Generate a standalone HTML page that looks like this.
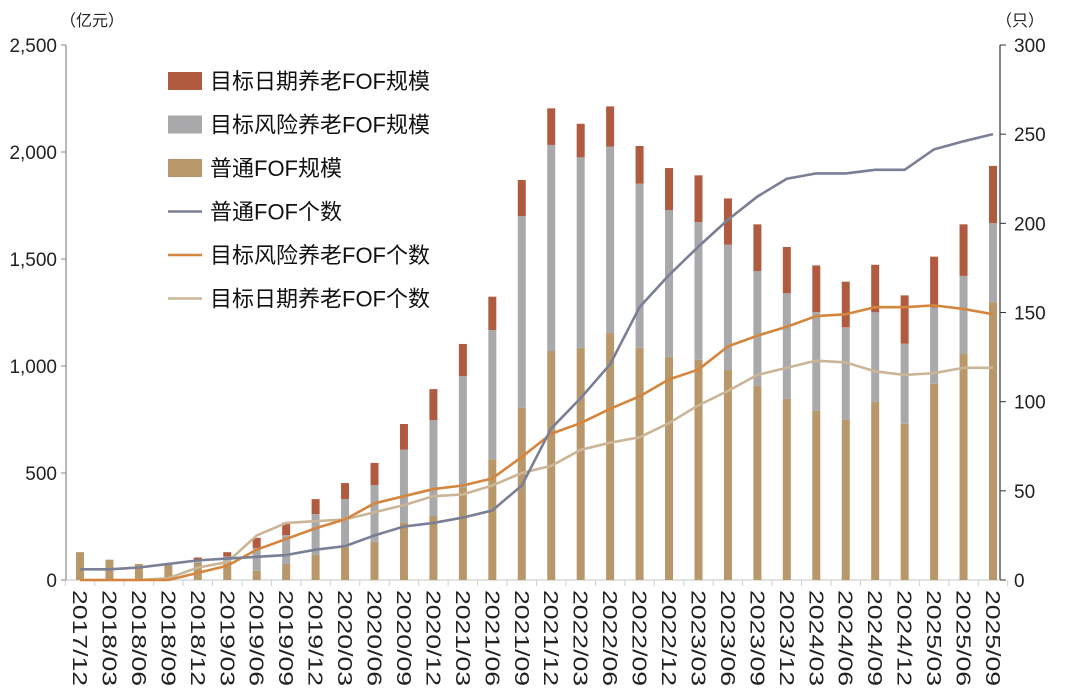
<!DOCTYPE html>
<html><head><meta charset="utf-8"><style>
body{margin:0;background:#fff}
svg{display:block;font-family:"Liberation Sans","Noto Sans CJK SC",sans-serif}
</style></head><body>
<svg id="chart" width="1080" height="696" viewBox="0 0 1080 696" xmlns="http://www.w3.org/2000/svg"></svg>
<script>
const categories=["2017/12","2018/03","2018/06","2018/09","2018/12","2019/03","2019/06","2019/09","2019/12","2020/03","2020/06","2020/09","2020/12","2021/03","2021/06","2021/09","2021/12","2022/03","2022/06","2022/09","2022/12","2023/03","2023/06","2023/09","2023/12","2024/03","2024/06","2024/09","2024/12","2025/03","2025/06","2025/09"];
const commonScale=[130,95,75,70,80,90,43,75,117,156,178,268,299,430,564,805,1070,1085,1154,1085,1043,1029,981,908,847,790,748,832,730,917,1056,1298];
const riskScale=[0,0,0,0,15,20,107,135,191,222,266,341,448,523,604,896,963,890,871,767,686,644,586,536,493,462,433,419,374,357,365,370];
const dateScale=[0,0,0,0,10,20,47,58,70,75,103,120,145,150,156,168,171,157,188,176,196,218,216,218,216,218,213,222,226,237,241,267];
const commonCount=[6,6,7,9,11,12,13,14,17,19,25,30,32,35,39,53,85,102,121,153,171,187,202,215,225,228,228,230,230,241.5,246,250];
const riskCount=[0,0,0,0,4,8,17,23,29,34,43,47,51,53,57,69,82,88,96,103,112.5,118,131,137,142,148,149,153,153,154,152,149];
const dateCount=[0,0,0,1,7,10,25,32,33,34,38,42,47,48,53,60,64,73,77,80,88,98,106,115,119,123,122,117,115,116,119,119];
const leftTicks=[0,500,1000,1500,2000,2500];
const rightTicks=[0,50,100,150,200,250,300];

const svg=document.getElementById('chart');
const NS='http://www.w3.org/2000/svg';
const X0=80,X1=993,Y0=580,Y1=45,AL=66,AR=1000;
const xPos=i=>X0+(X1-X0)*i/(categories.length-1);
const yL=v=>Y0-(Y0-Y1)*v/2500;
const yR=v=>Y0-(Y0-Y1)*v/300;
function mk(tag,attrs,parent){const e=document.createElementNS(NS,tag);for(const k in attrs)e.setAttribute(k,attrs[k]);(parent||svg).appendChild(e);return e;}

let el=mk('line',{x1:AL,y1:Y1,x2:AL,y2:Y0,stroke:'#888','stroke-width':1.2});


el=mk('line',{x1:AR,y1:Y1,x2:AR,y2:Y0,stroke:'#333','stroke-width':1.2});


el=mk('line',{x1:AL,y1:Y0,x2:AR,y2:Y0,stroke:'#d0d0d0','stroke-width':1.2});


const step=(X1-X0)/(categories.length-1);
for(let i=0;i<=categories.length;i++){
  const tx=X0-step/2+i*step;
  el=mk('line',{x1:tx,y1:Y0,x2:tx,y2:Y0+6,stroke:'#d0d0d0','stroke-width':1});
  
  
}
leftTicks.forEach(v=>{
  el=mk('line',{x1:AL-5,y1:yL(v),x2:AL,y2:yL(v),stroke:'#888'});
  
  
  el=mk('text',{x:AL-9,y:yL(v)+7,'text-anchor':'end','font-size':19,fill:'#222'});
  el.textContent=v.toLocaleString('en-US');
  
  
});
rightTicks.forEach(v=>{
  el=mk('line',{x1:AR,y1:yR(v),x2:AR+6,y2:yR(v),stroke:'#333'});
  
  
  el=mk('text',{x:AR+14,y:yR(v)+7,'font-size':19,fill:'#222'});
  el.textContent=v;
  
  
});
el=mk('text',{x:60,y:26,'font-size':16,fill:'#222'});el.textContent='（亿元）';


el=mk('text',{x:996,y:26,'font-size':16,fill:'#222'});el.textContent='（只）';



const BW=8;
categories.forEach((c,i)=>{
  const x=xPos(i)-BW/2;
  const a=commonScale[i],b=riskScale[i],d=dateScale[i];
  el=mk('rect',{x:x,y:yL(a),width:BW,height:Y0-yL(a),fill:'#b8986a'});
  
  
  el=mk('rect',{x:x,y:yL(a+b),width:BW,height:yL(a)-yL(a+b),fill:'#a9a9ab'});
  
  
  el=mk('rect',{x:x,y:yL(a+b+d),width:BW,height:yL(a+b)-yL(a+b+d),fill:'#b05a3f'});
  
  
  el=mk('text',{x:0,y:0,'font-size':20,fill:'#222',textLength:96,lengthAdjust:'spacingAndGlyphs',transform:`translate(${xPos(i)-7},590) rotate(90)`});
  el.textContent=c;
  
  
});

function line(arr,color,name){
  const pts=arr.map((v,i)=>xPos(i)+','+yR(v)).join(' ');
  const p=mk('polyline',{points:pts,fill:'none',stroke:color,'stroke-width':2.6,'stroke-linejoin':'round'});
  
  
}
line(dateCount,'#cbb597','line-date-count');
line(riskCount,'#d4863e','line-risk-count');
line(commonCount,'#7a7f96','line-common-count');

const legend=[['rect','#b05a3f','目标日期养老FOF规模'],['rect','#a9a9ab','目标风险养老FOF规模'],['rect','#b8986a','普通FOF规模'],['line','#7a7f96','普通FOF个数'],['line','#d4863e','目标风险养老FOF个数'],['line','#cbb597','目标日期养老FOF个数']];
legend.forEach((l,i)=>{
  const cy=81+i*43.5;
  if(l[0]==='rect'){el=mk('rect',{x:168,y:cy-9,width:34,height:18,fill:l[1]});}
  else{el=mk('line',{x1:168,y1:cy,x2:202,y2:cy,stroke:l[1],'stroke-width':2.6});}
  
  
  el=mk('text',{x:210,y:cy+8,'font-size':22,fill:'#111'});
  el.textContent=l[2];
  
  
});
</script>
</body></html>
